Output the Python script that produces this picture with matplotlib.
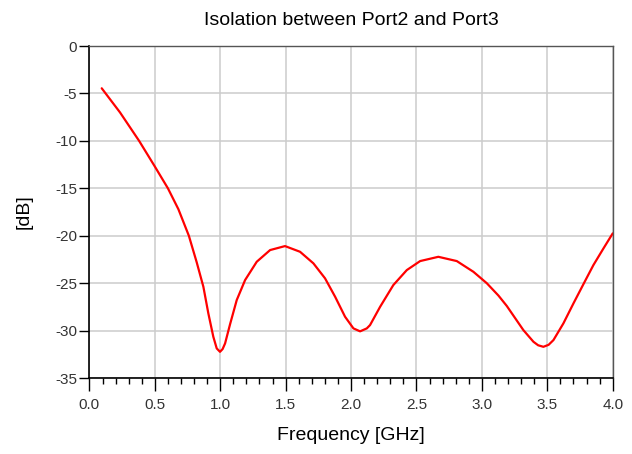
import matplotlib
matplotlib.use("Agg")
import matplotlib.pyplot as plt
from matplotlib.ticker import MultipleLocator

plt.rcParams['font.family'] = ['Liberation Sans', 'DejaVu Sans']

freq_ghz = [0.094, 0.234, 0.380, 0.500, 0.600, 0.680, 0.760, 0.820, 0.871,
            0.909, 0.947, 0.973, 0.998, 1.018, 1.037, 1.075, 1.126, 1.190, 1.279,
            1.381, 1.495, 1.610, 1.712, 1.801, 1.878, 1.954, 2.018, 2.069,
            2.120, 2.145, 2.222, 2.323, 2.426, 2.528, 2.667, 2.808, 2.935,
            3.037, 3.126, 3.190, 3.317, 3.394, 3.430, 3.470, 3.510, 3.547,
            3.623, 3.700, 3.780, 3.852, 3.929, 4.0]
iso_db = [-4.45, -7.0, -10.0, -12.7, -15.0, -17.2, -20.0, -22.8, -25.38,
          -28.19, -30.65, -31.88, -32.24, -31.95, -31.35, -29.33, -26.78, -24.67, -22.74,
          -21.51, -21.09, -21.69, -22.91, -24.49, -26.43, -28.54, -29.77, -30.08,
          -29.77, -29.42, -27.49, -25.2, -23.62, -22.67, -22.22, -22.67, -23.8,
          -25.0, -26.3, -27.4, -29.95, -31.18, -31.55, -31.71, -31.5, -31.0,
          -29.24, -27.13, -25.0, -23.1, -21.34, -19.75]

x_ticks = [0.0, 0.5, 1.0, 1.5, 2.0, 2.5, 3.0, 3.5, 4.0]
y_ticks = [0, -5, -10, -15, -20, -25, -30, -35]

fig = plt.figure(figsize=(6.32, 4.54), dpi=100)
ax = fig.add_axes([0.1415, 0.1674, 0.828, 0.7311])

ax.plot(freq_ghz, iso_db, color='#ff0000', lw=1.6,
        solid_capstyle='round', solid_joinstyle='round')

ax.set_xlim(0, 4)
ax.set_ylim(-35, 0)
ax.set_xticks(x_ticks)
ax.set_xticklabels([f"{v:.1f}" for v in x_ticks])
ax.set_yticks(y_ticks)
ax.set_yticklabels([str(v) for v in y_ticks])
ax.xaxis.set_minor_locator(MultipleLocator(0.1))

ax.grid(True, which='major', color='#cccccc', lw=1.1)
ax.set_axisbelow(True)

ax.tick_params(axis='x', which='major', direction='out', length=9.5, width=1,
               labelsize=11, labelcolor='#333333', pad=5)
ax.tick_params(axis='x', which='minor', direction='out', length=4, width=1)
ax.tick_params(axis='y', which='major', direction='out', length=7, width=1,
               labelsize=11, labelcolor='#333333', pad=2)

for side in ['left', 'bottom']:
    ax.spines[side].set_color('#000000')
    ax.spines[side].set_linewidth(1.2)
for side in ['top', 'right']:
    ax.spines[side].set_color('#555555')
    ax.spines[side].set_linewidth(1.0)

ax.set_title("Isolation between Port2 and Port3", fontsize=14, pad=15)
ax.set_xlabel("Frequency [GHz]", fontsize=14, labelpad=11)
ax.set_ylabel("[dB]", fontsize=14, labelpad=16)

fig.savefig("out.png", dpi=100)
